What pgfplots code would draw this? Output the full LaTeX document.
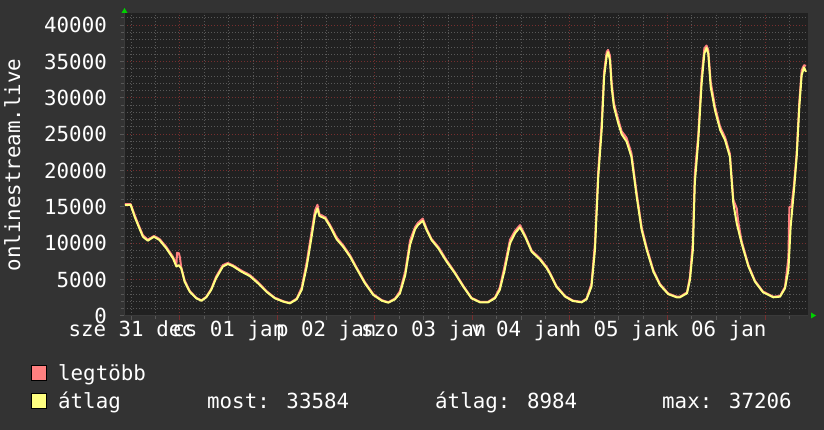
\documentclass[border=0pt]{standalone}
\usepackage{fontspec}
\setmainfont{DejaVu Sans Mono}
\usepackage{pgfplots}
\usepackage{pgfplotstable}
\pgfplotsset{compat=1.18}
\definecolor{outerbg}{RGB}{51,51,51}
\definecolor{plotbg}{RGB}{33,33,33}
\definecolor{axiscol}{RGB}{58,58,58}
\definecolor{gridgray}{RGB}{88,88,88}
\definecolor{gridred}{RGB}{118,46,46}
\definecolor{maxcol}{RGB}{255,128,128}
\definecolor{avgcol}{RGB}{255,255,128}
\definecolor{arrowgreen}{RGB}{0,210,0}
\newcommand\gfont{\fontsize{20.8}{24}\selectfont}

% átlag (average), x in days from 01 jan 00:00
\pgfplotstableread{
d v
-0.564 15250
-0.506 15300
-0.465 13660
-0.430 12500
-0.380 10900
-0.330 10360
-0.267 10900
-0.210 10450
-0.140 9300
-0.070 7900
-0.037 6800
-0.013 7000
0.013 6550
0.048 4700
0.100 3350
0.167 2430
0.220 2100
0.270 2570
0.320 3580
0.370 5180
0.440 6800
0.490 7150
0.540 6880
0.630 6100
0.715 5500
0.800 4500
0.890 3300
0.974 2430
1.060 1970
1.128 1740
1.197 2300
1.248 3580
1.300 6800
1.350 10900
1.385 13900
1.410 14800
1.430 13760
1.490 13400
1.540 12300
1.607 10550
1.675 9500
1.744 8160
1.810 6560
1.897 4500
1.983 2890
2.070 2100
2.137 1830
2.205 2300
2.256 3120
2.310 5600
2.360 9800
2.410 11900
2.440 12500
2.490 13100
2.530 11800
2.580 10450
2.650 9300
2.735 7470
2.820 5870
2.906 4030
2.990 2430
3.077 1880
3.160 1880
3.230 2430
3.280 3580
3.330 6330
3.385 10000
3.436 11380
3.487 12200
3.540 10900
3.607 8840
3.690 7800
3.760 6600
3.795 5800
3.860 4030
3.950 2660
4.030 2060
4.120 1880
4.170 2300
4.220 4030
4.256 9080
4.290 19160
4.325 25600
4.350 32900
4.376 35700
4.390 36300
4.410 35200
4.427 31500
4.450 28800
4.495 26500
4.530 25000
4.580 24000
4.630 21900
4.684 16400
4.735 11830
4.787 9080
4.855 6100
4.923 4260
5.008 3000
5.094 2570
5.128 2570
5.200 3120
5.230 4950
5.260 9080
5.280 18250
5.316 24200
5.350 32000
5.378 36100
5.400 36900
5.418 36100
5.443 31500
5.487 28300
5.540 25600
5.590 24200
5.640 21900
5.675 15500
5.710 12750
5.760 10000
5.830 6800
5.897 4720
5.980 3260
6.085 2570
6.154 2660
6.205 3800
6.240 6330
6.263 12280
6.297 17300
6.325 21900
6.352 28800
6.376 33150
6.400 34200
6.420 33584
}\avgdata

% legtöbb (maximum)
\pgfplotstableread{
d v
-0.564 15400
-0.506 15400
-0.465 13900
-0.430 12700
-0.380 11100
-0.330 10500
-0.267 11000
-0.210 10600
-0.140 9500
-0.070 8100
-0.037 7000
-0.030 8700
-0.010 8600
0.000 8000
0.013 6700
0.048 4900
0.100 3450
0.167 2500
0.220 2150
0.270 2650
0.320 3700
0.370 5400
0.440 7000
0.490 7300
0.540 7000
0.630 6250
0.715 5650
0.800 4650
0.890 3400
0.974 2500
1.060 2030
1.128 1800
1.197 2400
1.248 3900
1.300 7400
1.350 11600
1.385 14500
1.410 15300
1.430 14000
1.490 13600
1.540 12500
1.607 10800
1.675 9700
1.744 8350
1.810 6700
1.897 4650
1.983 3000
2.070 2180
2.137 1900
2.205 2400
2.256 3400
2.310 6100
2.360 10400
2.410 12200
2.440 12800
2.490 13400
2.530 12000
2.580 10600
2.650 9500
2.735 7650
2.820 6000
2.906 4150
2.990 2500
3.077 1950
3.160 1950
3.230 2550
3.280 3900
3.330 6900
3.385 10500
3.436 11700
3.487 12500
3.540 11100
3.607 9000
3.690 7950
3.760 6750
3.795 5950
3.860 4150
3.950 2750
4.030 2120
4.120 1950
4.170 2400
4.220 4400
4.256 10000
4.290 20000
4.325 26500
4.350 33600
4.376 36300
4.390 36600
4.410 35800
4.427 32200
4.450 29300
4.495 27000
4.530 25400
4.580 24500
4.630 22400
4.684 16900
4.735 12200
4.787 9400
4.855 6300
4.923 4400
5.008 3100
5.094 2650
5.128 2650
5.200 3250
5.230 5400
5.260 10200
5.280 19500
5.316 25000
5.350 33000
5.378 36800
5.400 37206
5.418 36600
5.443 32200
5.487 28800
5.540 26000
5.590 24600
5.640 22300
5.675 16000
5.710 14800
5.725 13000
5.760 10300
5.830 7000
5.897 4850
5.980 3350
6.085 2650
6.154 2750
6.205 4000
6.240 8000
6.250 15000
6.270 15000
6.297 18000
6.325 22500
6.352 29500
6.376 33800
6.400 34500
6.420 34400
}\maxdata

\begin{document}
\begin{tikzpicture}
\fill[outerbg] (0,0) rectangle (824pt,430pt);
\begin{axis}[
  at={(124pt,114pt)}, anchor=south west,
  scale only axis, width=684pt, height=303pt,
  xmin=-0.574, xmax=6.441, ymin=0, ymax=41680,
  scaled x ticks=false, scaled y ticks=false,
  axis background/.style={fill=plotbg},
  axis x line*=bottom, axis y line*=left,
  axis line style={draw=axiscol, line width=1pt, -},
  xtick={-0.5,0.5,1.5,2.5,3.5,4.5,5.5},
  xticklabels={sze 31 dec,cs 01 jan,p 02 jan,szo 03 jan,v 04 jan,h 05 jan,k 06 jan},
  minor xtick={-0.5,-0.25,...,6.25},
  extra x ticks={0,1,2,3,4,5,6}, extra x tick labels={},
  extra x tick style={grid=major, tick style={draw=gridred}},
  ytick={0,5000,10000,15000,20000,25000,30000,35000,40000},
  yticklabels={0,5000,10000,15000,20000,25000,30000,35000,40000},
  minor ytick={1000,2000,...,41000},
  xminorgrids=true, ymajorgrids=true, yminorgrids=true,
  major grid style={draw=gridred, line width=1pt, dash pattern=on 1pt off 2pt},
  minor grid style={draw=gridgray, line width=1pt, dash pattern=on 1pt off 2pt},
  tick style={draw=gridgray, line width=1pt},
  major tick length=4pt, minor tick length=3pt, tick align=outside,
  tick label style={font=\gfont, text=white, inner sep=0pt},
  xticklabel style={anchor=base, yshift=-17pt},
  yticklabel style={anchor=east, xshift=-13pt},
]
\addplot[maxcol, line width=2pt, line join=round, no markers] table[x=d, y=v] {\maxdata};
\addplot[avgcol, line width=2pt, line join=round, no markers] table[x=d, y=v] {\avgdata};
\end{axis}
% axis arrows
\fill[arrowgreen] (121.5pt,417pt) -- (127.5pt,417pt) -- (124.5pt,422pt) -- cycle;
\fill[arrowgreen] (811pt,111.5pt) -- (811pt,117.5pt) -- (816pt,114.5pt) -- cycle;
% vertical title
\node[rotate=90, anchor=base, font=\gfont, text=white, inner sep=0pt] at (20pt,265pt) {onlinestream.live};
% legend
\filldraw[fill=maxcol, draw=black, line width=1pt] (31.5pt,49.5pt) rectangle (46.5pt,64.5pt);
\filldraw[fill=avgcol, draw=black, line width=1pt] (31.5pt,21.5pt) rectangle (46.5pt,36.5pt);
\begin{scope}[every node/.style={anchor=base west, inner sep=0pt, font=\gfont, text=white}]
\node at (58pt,49.5pt) {legtöbb};
\node at (58pt,21pt) {átlag};
\node at (207pt,21pt) {most: 33584};
\node at (435pt,21pt) {átlag: 8984};
\node at (662pt,21pt) {max: 37206};
\end{scope}
\end{tikzpicture}
\end{document}
